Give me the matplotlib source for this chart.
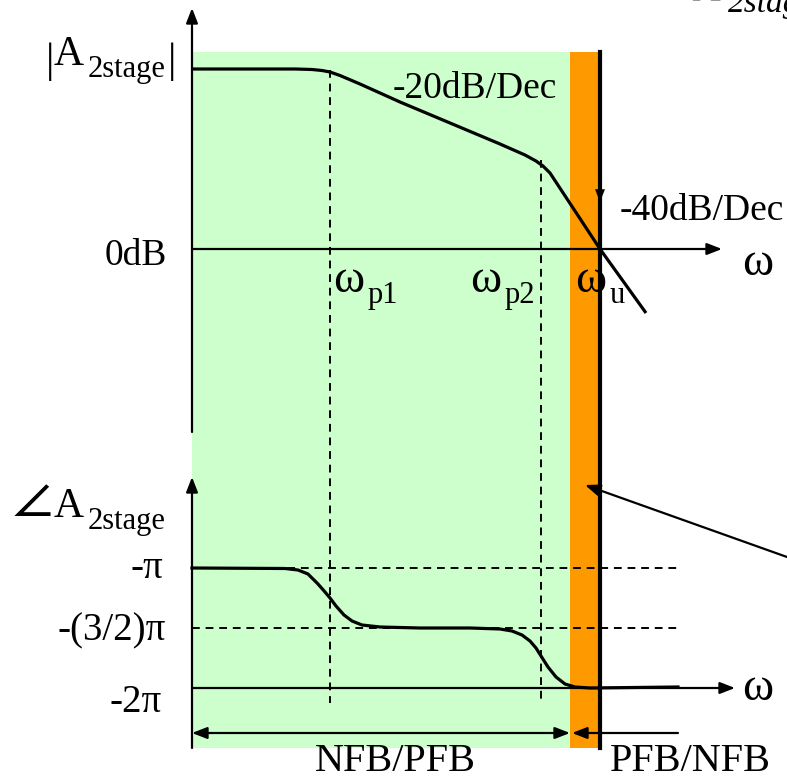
import numpy as np
import matplotlib
matplotlib.use("Agg")
import matplotlib.pyplot as plt
from matplotlib.patches import Rectangle

plt.rcParams['font.family'] = ['Liberation Serif', 'DejaVu Serif']
plt.rcParams['mathtext.fontset'] = 'cm'

# picture units (x to the right, y downwards)
axis_x = 192
odb_y = 249
phase_axis_y = 688
wp1_x, wp2_x, wu_x = 330, 541, 600
green_x = [192, 570]
orange_x = [570, 600]
shade_y = [52, 748]

# magnitude |A2stage| curve
mag_x = [192, 295, 312, 322, 330, 340, 360, 400, 450, 500, 525, 536, 543, 550, 600, 646]
mag_y = [69, 69, 69.5, 70.5, 72, 75.5, 84, 102, 123, 144, 155, 161, 166, 173, 249, 313]

# phase curve
phase_x = [192, 285, 298, 308, 318, 325, 330, 336, 344, 352, 362, 380, 420, 470, 500, 512,
           522, 530, 536, 541, 548, 556, 565, 575, 590, 678]
phase_y = [568, 568.5, 570, 574, 584, 592, 598, 606, 615, 621, 625, 627, 628, 628, 629, 631,
           635, 641, 648, 656, 667, 677, 684, 687, 688, 687]

# phase reference levels: -pi, -(3/2)pi
phase_levels = [568, 628]

fig = plt.figure(figsize=(7.87, 7.81), dpi=100)
ax = fig.add_axes([0, 0, 1, 1])
ax.set_xlim(0, 787)
ax.set_ylim(781, 0)
ax.axis('off')

# shaded regions
ax.add_patch(Rectangle((green_x[0], shade_y[0]), green_x[1] - green_x[0], shade_y[1] - shade_y[0],
                       facecolor='#ccffcc', edgecolor='none', zorder=0))
ax.add_patch(Rectangle((orange_x[0], shade_y[0]), orange_x[1] - orange_x[0], shade_y[1] - shade_y[0],
                       facecolor='#ff9900', edgecolor='none', zorder=0))

arr = dict(arrowstyle='-|>,head_length=0.9,head_width=0.35', color='black', lw=1.6,
           shrinkA=0, shrinkB=0)

# axes with arrows
ax.annotate('', xy=(axis_x, 8), xytext=(axis_x, 432), arrowprops=arr)
ax.annotate('', xy=(axis_x, 477), xytext=(axis_x, 748), arrowprops=arr)
ax.annotate('', xy=(722, odb_y), xytext=(axis_x, odb_y), arrowprops=arr)
ax.annotate('', xy=(735, phase_axis_y), xytext=(axis_x, phase_axis_y), arrowprops=arr)

# thick line at omega_u with downward arrowhead
ax.plot([wu_x, wu_x], [shade_y[0], shade_y[1]], color='black', lw=3, zorder=3)
ax.annotate('', xy=(wu_x, 202), xytext=(wu_x, 150),
            arrowprops=dict(arrowstyle='-|>,head_length=0.9,head_width=0.35', color='black',
                            lw=0.1, shrinkA=0, shrinkB=0))

# dashed guides
for xv, y0 in [(wp1_x, 70), (wp2_x, 160)]:
    ax.plot([xv, xv], [y0, 703], color='black', lw=1.4, ls=(0, (4, 3)), zorder=2)
for yv in phase_levels:
    ax.plot([axis_x, 678], [yv, yv], color='black', lw=1.4, ls=(0, (4, 3)), zorder=2)

# curves
ax.plot(mag_x, mag_y, color='black', lw=2.3, zorder=4, solid_capstyle='butt')
ax.plot(phase_x, phase_y, color='black', lw=2.3, zorder=4)

# bottom range arrows
ax.annotate('', xy=(192, 733), xytext=(570, 733),
            arrowprops=dict(arrowstyle='<|-|>,head_length=0.9,head_width=0.35', color='black',
                            lw=1.6, shrinkA=0, shrinkB=0))
ax.annotate('', xy=(572, 733), xytext=(678, 733), arrowprops=arr)

# pointer arrow from the right
ax.annotate('', xy=(585, 485), xytext=(787, 557), arrowprops=arr)


def put(x, y, s, size, ha='left', color='black', va='baseline', **kw):
    ax.text(x, y, s, fontsize=size, ha=ha, va=va, color=color, **kw)


# magnitude labels
put(46, 72, '|', 30)
put(54, 65, 'A', 30)
put(88, 77, '2stage', 22)
put(168, 72, '|', 30)
put(167, 265, '0dB', 27, ha='right')
put(393, 98, '-20dB/Dec', 27)
put(620, 220, '-40dB/Dec', 27)
put(742, 275, 'ω', 34)
put(333, 292, 'ω', 34)
put(368, 303, 'p1', 22)
put(470, 292, 'ω', 34)
put(505, 303, 'p2', 22)
put(575, 292, 'ω', 34)
put(610, 303, 'u', 22)

# phase labels
put(12, 516, r'$\angle$', 42)
put(54, 517, 'A', 30)
put(88, 529, '2stage', 22)
put(163, 578, '-π', 28, ha='right')
put(166, 640, '-(3/2)π', 28, ha='right')
put(162, 712, '-2π', 28, ha='right')
put(742, 700, 'ω', 34)

# feedback regions
put(395, 780, 'NFB/PFB', 29, ha='center', va='bottom')
put(690, 780, 'PFB/NFB', 29, ha='center', va='bottom')

# clipped caption at top right
put(694, 1, 'A', 30, style='italic', color='#999999')
put(728, 12, '2stage', 24, style='italic')

fig.savefig('out.png', dpi=100)
